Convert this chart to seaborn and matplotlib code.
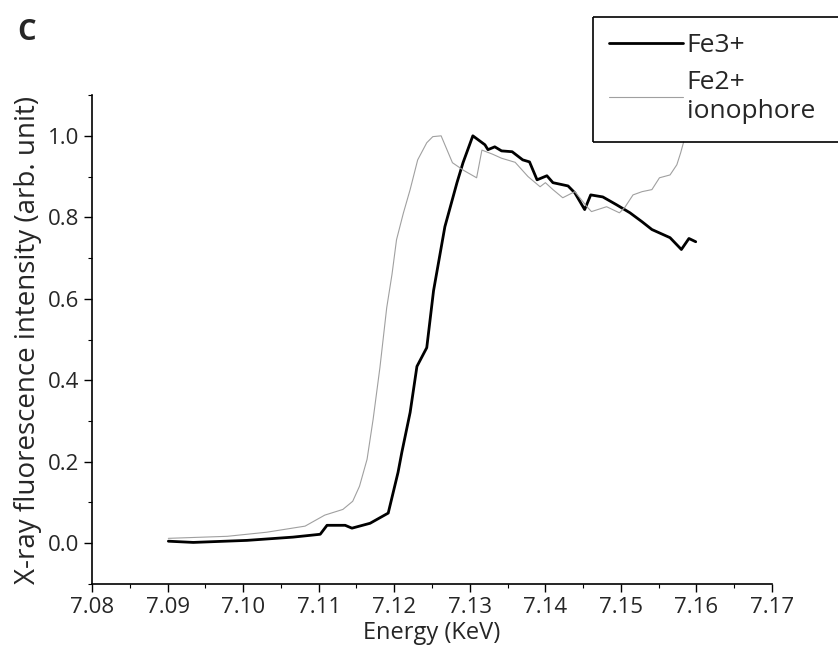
import numpy as np
import seaborn as sns
import matplotlib.pyplot as plt
from matplotlib.ticker import MultipleLocator
from matplotlib.lines import Line2D

# Fe3+ spectrum (black)
fe3_energy = [7.0901, 7.0934, 7.1005, 7.1066, 7.1102, 7.1111, 7.1135, 7.1144, 7.1168, 7.1192,
              7.1205, 7.1210, 7.1221, 7.1230, 7.1243, 7.1252, 7.1267, 7.1283, 7.1291, 7.1304,
              7.1320, 7.1324, 7.1333, 7.1342, 7.1356, 7.1370, 7.1379, 7.1389, 7.1402, 7.1410,
              7.1430, 7.1439, 7.1452, 7.1460, 7.1476, 7.1494, 7.1512, 7.1528, 7.1541, 7.1565,
              7.1580, 7.1590, 7.1599]
fe3_intensity = [0.005, 0.002, 0.007, 0.015, 0.022, 0.044, 0.044, 0.037, 0.049, 0.074,
                 0.174, 0.223, 0.321, 0.434, 0.480, 0.620, 0.777, 0.885, 0.934, 1.000,
                 0.978, 0.966, 0.973, 0.963, 0.961, 0.941, 0.936, 0.892, 0.902, 0.885,
                 0.877, 0.860, 0.819, 0.855, 0.850, 0.831, 0.811, 0.789, 0.770, 0.750,
                 0.721, 0.748, 0.740]

# Fe2+ ionophore spectrum (grey)
fe2_energy = [7.0901, 7.0979, 7.1031, 7.1082, 7.1108, 7.1132, 7.1145, 7.1154, 7.1164, 7.1172,
              7.1181, 7.1190, 7.1197, 7.1203, 7.1212, 7.1221, 7.1231, 7.1243, 7.1251, 7.1262,
              7.1277, 7.1292, 7.1309, 7.1316, 7.1330, 7.1342, 7.1360, 7.1377, 7.1393, 7.1400,
              7.1410, 7.1423, 7.1439, 7.1455, 7.1461, 7.1481, 7.1498, 7.1505, 7.1516, 7.1528,
              7.1541, 7.1551, 7.1565, 7.1574, 7.1579, 7.1583]
fe2_intensity = [0.012, 0.017, 0.027, 0.042, 0.069, 0.083, 0.103, 0.140, 0.206, 0.304,
                 0.431, 0.578, 0.660, 0.745, 0.810, 0.868, 0.941, 0.983, 0.998, 1.000,
                 0.934, 0.915, 0.897, 0.965, 0.955, 0.945, 0.935, 0.900, 0.875, 0.885,
                 0.868, 0.848, 0.863, 0.826, 0.814, 0.826, 0.811, 0.824, 0.855, 0.863,
                 0.868, 0.897, 0.904, 0.929, 0.958, 0.985]

sns.set_style('ticks')
plt.rcParams['font.family'] = ['Open Sans', 'DejaVu Sans']

fig = plt.figure(figsize=(8.39, 6.58), dpi=100)
ax = fig.add_axes([0.1097, 0.1125, 0.8105, 0.743])

sns.lineplot(x=fe3_energy, y=fe3_intensity, color='black', linewidth=2.0,
             sort=False, label='Fe3+', ax=ax)
sns.lineplot(x=fe2_energy, y=fe2_intensity, color='#a0a0a0', linewidth=0.8,
             sort=False, label='Fe2+\nionophore', ax=ax)

ax.set_xlim(7.08, 7.17)
ax.set_ylim(-0.1, 1.1)
ax.xaxis.set_major_locator(MultipleLocator(0.01))
ax.xaxis.set_minor_locator(MultipleLocator(0.005))
ax.yaxis.set_major_locator(MultipleLocator(0.2))
ax.yaxis.set_minor_locator(MultipleLocator(0.1))
ax.xaxis.set_major_formatter(plt.FuncFormatter(lambda v, p: f'{v:.2f}'))
ax.yaxis.set_major_formatter(plt.FuncFormatter(lambda v, p: f'{v:.1f}'))
ax.tick_params(which='major', direction='out', length=6, width=1, labelsize=16, color='black')
ax.tick_params(which='minor', direction='out', length=3, width=0.8, color='black')
sns.despine(ax=ax)
for s in ['left', 'bottom']:
    ax.spines[s].set_color('black')
    ax.spines[s].set_linewidth(1.2)

ax.set_xlabel('Energy (KeV)', fontsize=17, labelpad=2)
ax.set_ylabel('X-ray fluorescence intensity (arb. unit)', fontsize=20, labelpad=4)

# legend without its own frame; the box is open on the right (cut by the figure edge)
leg = ax.legend(loc='upper left', bbox_to_anchor=(593 / 839, 1 - 17 / 658),
                bbox_transform=fig.transFigure, fontsize=19, frameon=False,
                handlelength=2.8, handletextpad=0.15, labelspacing=0.45,
                borderpad=0.6, borderaxespad=0)
box_left, box_right = 593 / 839, 0.999
box_top, box_bottom = 1 - 17 / 658, 1 - 142 / 658
for xs, ys in [([box_left, box_right], [box_top, box_top]),
               ([box_left, box_left], [box_top, box_bottom]),
               ([box_left, box_right], [box_bottom, box_bottom])]:
    fig.add_artist(Line2D(xs, ys, transform=fig.transFigure, color='black',
                          linewidth=1.2, solid_capstyle='butt'))

fig.text(27 / 839, 1 - 33 / 658, 'C', fontsize=21, fontweight='bold', ha='center', va='center')

fig.savefig('out.png', dpi=100)
